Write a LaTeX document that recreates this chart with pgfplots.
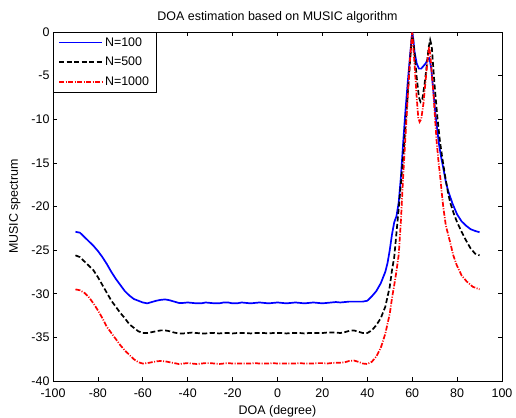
\documentclass[border=0pt]{standalone}
\usepackage{fontspec}
\setmainfont{Liberation Sans}
\usepackage{pgfplots}
\pgfplotsset{compat=1.18}
\newcommand{\ff}{\fontsize{12.5}{15}\selectfont}
\begin{document}
\begin{tikzpicture}[font=\ff]
\begin{axis}[
  name=ax,
  scale only axis, width=449bp, height=349bp,
  xmin=-100, xmax=100, ymin=-40, ymax=0,
  xtick={-100,-80,...,100}, ytick={-40,-35,...,0},
  tick align=inside, major tick length=4bp,
  axis line style={line width=0.7bp},
  every tick/.style={black, line width=0.7bp},
  /pgf/number format/assume math mode=true,
  tick label style={font=\ff},
  xticklabel style={yshift=-4bp},
  title={DOA estimation based on MUSIC algorithm},
  title style={font=\ff, at={(axis description cs:0.5,1)}, anchor=base, yshift=6bp},
  xlabel={DOA (degree)},
  xlabel style={font=\ff, at={(axis description cs:0.5,-0.097)}, anchor=base},
  ylabel={MUSIC spectrum},
  ylabel style={font=\ff, at={(axis description cs:-0.085,0.5)}, anchor=center},
  legend cell align=left,
  legend style={font=\ff, draw=black, line width=0.7bp, at={(axis description cs:0,1)}, anchor=north west,
    inner xsep=5bp, inner ysep=3bp, row sep=5.5bp, /tikz/every even column/.append style={column sep=3bp}},
  legend image code/.code={\draw[#1] (0bp,0bp) -- (43bp,0bp);},
]
\addplot[blue, line width=1.7bp] coordinates {
(-90,-22.9)(-88,-23.0)(-86,-23.5)(-84,-24.0)(-82,-24.5)(-80,-25.1)(-78,-25.8)(-76,-26.6)(-74,-27.5)(-72,-28.3)
(-70,-29.0)(-68,-29.7)(-66,-30.2)(-64,-30.6)(-62,-30.8)(-60,-31.0)(-58,-31.1)(-56,-30.95)(-54,-30.8)(-52,-30.7)
(-50,-30.65)(-48,-30.75)(-46,-30.9)(-44,-31.05)(-42,-31.05)(-40,-31.0)(-38,-31.05)(-36,-31.1)(-34,-31.1)(-32,-31.0)
(-30,-31.05)(-28,-31.1)(-26,-31.1)(-24,-31.0)(-22,-31.0)(-20,-31.1)(-18,-31.1)(-16,-31.0)(-14,-31.05)(-12,-31.1)
(-10,-31.05)(-8,-31.0)(-6,-31.05)(-4,-31.1)(-2,-31.05)(0,-31.0)(2,-31.05)(4,-31.1)(6,-31.05)(8,-31.0)
(10,-31.05)(12,-31.1)(14,-31.05)(16,-31.0)(18,-31.05)(20,-31.1)(22,-31.05)(24,-31.0)(26,-30.95)(28,-31.0)
(30,-30.95)(32,-30.9)(34,-30.9)(36,-30.9)(38,-30.9)(40,-30.8)(42,-30.3)(44,-29.7)(46,-28.8)(48,-27.5)
(49,-26.5)(50,-25.0)(51,-23.2)(52,-21.8)(53,-21.1)(54,-19.5)(55,-16.5)(56,-12.6)(57,-9.0)(58,-5.8)
(59,-2.8)(60,-0.05)(60.5,-0.8)(61,-2.2)(62,-3.6)(63,-4.2)(64,-4.2)(65,-3.9)(66,-3.6)(67,-3.1)
(67.7,-3.0)(68.5,-4.2)(69.5,-7.0)(70.5,-9.8)(72,-13.0)(73,-14.5)(74,-15.8)(75,-17.2)(76,-18.2)(78,-19.7)
(80,-20.9)(82,-21.7)(84,-22.2)(86,-22.6)(88,-22.8)(90,-22.95)
};
\addlegendentry{N=100}
\addplot[black, line width=1.7bp, dash pattern=on 5bp off 2.5bp] coordinates {
(-90,-25.6)(-88,-25.8)(-86,-26.3)(-84,-26.8)(-82,-27.3)(-80,-28.1)(-78,-29.0)(-76,-29.9)(-74,-30.8)(-72,-31.5)
(-70,-32.2)(-68,-32.8)(-66,-33.5)(-64,-33.9)(-62,-34.3)(-60,-34.5)(-58,-34.5)(-56,-34.4)(-54,-34.3)(-52,-34.2)
(-50,-34.2)(-48,-34.3)(-46,-34.45)(-44,-34.55)(-42,-34.55)(-40,-34.5)(-38,-34.45)(-36,-34.5)(-34,-34.55)(-32,-34.55)
(-30,-34.5)(-28,-34.5)(-26,-34.55)(-24,-34.5)(-22,-34.5)(-20,-34.55)(-18,-34.5)(-16,-34.5)(-14,-34.5)(-12,-34.55)
(-10,-34.5)(-8,-34.5)(-6,-34.5)(-4,-34.55)(-2,-34.5)(0,-34.5)(2,-34.5)(4,-34.55)(6,-34.5)(8,-34.5)
(10,-34.5)(12,-34.55)(14,-34.5)(16,-34.5)(18,-34.5)(20,-34.5)(22,-34.45)(24,-34.45)(26,-34.45)(28,-34.5)
(30,-34.4)(32,-34.25)(34,-34.2)(36,-34.35)(38,-34.5)(40,-34.5)(42,-34.2)(44,-33.6)(46,-32.8)(48,-31.5)
(50,-29.2)(51,-27.3)(52,-25.8)(53,-23.0)(54,-20.2)(55,-17.3)(56,-14.2)(57,-10.8)(58,-7.2)(59,-3.5)
(60,-0.05)(61,-2.3)(62,-5.2)(63,-7.5)(63.7,-8.0)(64.5,-7.7)(65.5,-6.0)(66.5,-3.8)(67.3,-1.8)(68,-0.9)
(68.7,-1.6)(69.5,-4.5)(70.2,-6.8)(71.3,-10.0)(72.4,-12.6)(73.5,-14.6)(74.6,-16.4)(76,-18.5)(77,-19.6)(78.5,-20.8)
(80,-21.8)(82,-22.9)(84,-23.9)(86,-24.8)(88,-25.4)(90,-25.6)
};
\addlegendentry{N=500}
\addplot[red, line width=1.7bp, dash pattern=on 5bp off 1.5bp on 1bp off 1.5bp] coordinates {
(-90,-29.5)(-88,-29.6)(-86,-29.9)(-84,-30.4)(-82,-31.1)(-80,-31.9)(-78,-32.8)(-76,-33.8)(-74,-34.5)(-72,-35.2)
(-70,-35.9)(-68,-36.5)(-66,-37.0)(-64,-37.5)(-62,-37.85)(-60,-38.0)(-58,-37.95)(-56,-37.85)(-54,-37.75)(-52,-37.7)
(-50,-37.75)(-48,-37.85)(-46,-37.95)(-44,-38.05)(-42,-38.0)(-40,-37.95)(-38,-38.0)(-36,-38.05)(-34,-38.0)(-32,-37.95)
(-30,-37.95)(-28,-38.0)(-26,-38.05)(-24,-38.0)(-22,-37.95)(-20,-38.0)(-18,-38.0)(-16,-38.0)(-14,-38.0)(-12,-38.0)
(-10,-37.95)(-8,-38.0)(-6,-38.0)(-4,-38.0)(-2,-37.95)(0,-38.0)(2,-38.0)(4,-38.0)(6,-38.0)(8,-38.0)
(10,-37.95)(12,-38.0)(14,-38.0)(16,-38.0)(18,-37.95)(20,-37.95)(22,-38.0)(24,-37.95)(26,-37.9)(28,-37.9)
(30,-37.85)(32,-37.7)(34,-37.65)(36,-37.8)(38,-38.0)(40,-38.05)(42,-37.8)(44,-37.2)(46,-36.2)(48,-34.6)
(50,-32.3)(51,-30.5)(52,-29.0)(53,-27.4)(54,-25.5)(55,-21.5)(56,-16.4)(57,-12.0)(58,-7.5)(59,-3.2)
(60,-0.05)(61,-3.5)(62,-7.5)(62.7,-9.8)(63.3,-10.3)(64,-10.0)(65,-8.2)(66,-5.5)(67,-2.8)(67.6,-1.7)
(68.2,-3.0)(68.8,-5.0)(69.4,-6.8)(70.2,-10.0)(70.9,-12.6)(71.7,-14.8)(72.4,-16.4)(73.2,-18.5)(73.9,-20.2)(75,-22.2)
(76.8,-24.0)(78.3,-25.6)(79.8,-26.7)(82,-27.9)(84.3,-28.6)(87,-29.2)(90,-29.5)
};
\addlegendentry{N=1000}
\end{axis}
\pgfresetboundingbox
\path ([shift={(-53bp,-37bp)}]ax.south west) rectangle ([shift={(14bp,32bp)}]ax.north east);
\end{tikzpicture}
\end{document}
